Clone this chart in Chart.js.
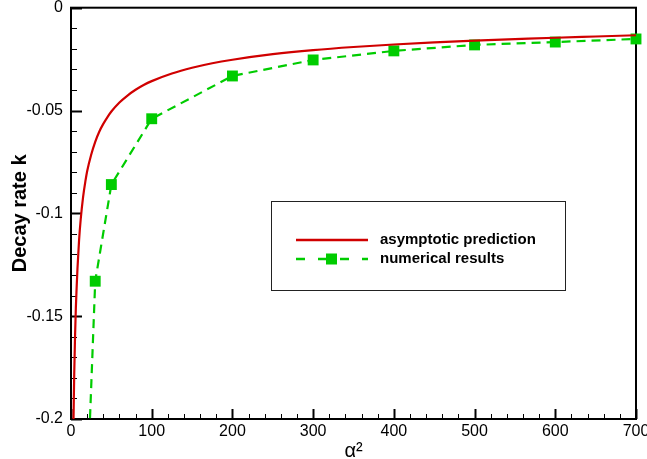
<!DOCTYPE html>
<html><head><meta charset="utf-8">
<script src="https://cdn.jsdelivr.net/npm/chart.js@4/dist/chart.umd.min.js"></script>
<style>html,body{margin:0;padding:0;background:#fff;}#wrap{width:647px;height:459px;}</style>
</head><body><div id="wrap"><canvas id="c" width="647" height="459"></canvas></div>
<script>
// ---- data ----
const asymX = [2.5, 3, 3.5, 4, 5, 6, 7, 8, 10, 12, 15, 18, 20, 25, 30, 35, 40, 45, 50, 60, 70, 80, 90, 100, 125, 150, 175, 200, 250, 300, 350, 400, 450, 500, 550, 600, 650, 700];
const asymK = [-0.222, -0.204, -0.190, -0.178, -0.160, -0.146, -0.136, -0.127, -0.113, -0.103, -0.092, -0.084, -0.0795, -0.0715, -0.0652, -0.0603, -0.0565, -0.0533, -0.0505, -0.0461, -0.0427, -0.0399, -0.0376, -0.0357, -0.0320, -0.0292, -0.0270, -0.0253, -0.0226, -0.0206, -0.0191, -0.0179, -0.0169, -0.0160, -0.0153, -0.0146, -0.0140, -0.0134];
const numX = [20, 30, 50, 100, 200, 300, 400, 500, 600, 700];
const numK = [-0.236, -0.133, -0.086, -0.054, -0.0332, -0.0254, -0.0210, -0.0181, -0.0167, -0.0152];
const xTickValues = [0, 100, 200, 300, 400, 500, 600, 700];
const xTickLabels = ['0', '100', '200', '300', '400', '500', '600', '700'];
const yTickValues = [-0.2, -0.15, -0.1, -0.05, 0];
const yTickLabels = ['-0.2', '-0.15', '-0.1', '-0.05', '0'];
const seriesLabels = ['asymptotic prediction', 'numerical results'];
const xTitle = 'α²';
const yTitle = 'Decay rate k';

const RED = '#d00000', GREEN = '#00cc00';
const FONT = '"Liberation Sans", Arial, sans-serif';

const frameTicks = {
  id: 'frameTicks',
  beforeDatasetsDraw(chart) {
    const ctx = chart.ctx, a = chart.chartArea;
    const xs = chart.scales.x, ys = chart.scales.y;
    ctx.save();
    ctx.strokeStyle = '#000';
    for (let v = 0; v <= 700 + 1e-9; v += 20) {
      const px = Math.round(xs.getPixelForValue(v)) + 0.5;
      const major = Math.abs(v % 100) < 1e-6;
      ctx.lineWidth = major ? 2 : 1;
      ctx.beginPath(); ctx.moveTo(px, a.bottom); ctx.lineTo(px, a.bottom - (major ? 10 : 5)); ctx.stroke();
    }
    for (let i = 0; i <= 20; i++) {
      const v = -0.2 + i * 0.01;
      const py = Math.round(ys.getPixelForValue(v)) + 0.5;
      const major = i % 5 === 0;
      ctx.lineWidth = major ? 2 : 1;
      ctx.beginPath(); ctx.moveTo(a.left, py); ctx.lineTo(a.left + (major ? 11 : 6), py); ctx.stroke();
    }
    ctx.lineWidth = 2;
    ctx.strokeRect(a.left, a.top, a.right - a.left, a.bottom - a.top);
    ctx.restore();
  },
  afterDraw(chart) {
    const ctx = chart.ctx;
    ctx.save();
    const lx = 271, ly = 201, lw = 294, lh = 89;
    ctx.fillStyle = '#fff';
    ctx.fillRect(lx, ly, lw, lh);
    ctx.lineWidth = 1;
    ctx.strokeStyle = '#222';
    ctx.strokeRect(lx + 0.5, ly + 0.5, lw, lh);
    const ds = chart.data.datasets;
    ctx.font = 'bold 15px ' + FONT;
    ctx.fillStyle = '#000';
    ctx.textBaseline = 'middle';
    ctx.textAlign = 'left';
    ctx.strokeStyle = RED; ctx.lineWidth = 2.5; ctx.setLineDash([]);
    ctx.beginPath(); ctx.moveTo(296, 240); ctx.lineTo(368, 240); ctx.stroke();
    ctx.fillText(ds[0].label, 380, 240);
    ctx.strokeStyle = GREEN; ctx.lineWidth = 2.5; ctx.setLineDash([9, 13]);
    ctx.beginPath(); ctx.moveTo(296, 259); ctx.lineTo(368, 259); ctx.stroke();
    ctx.setLineDash([]);
    ctx.fillStyle = GREEN; ctx.fillRect(326, 253.5, 11, 11);
    ctx.fillStyle = '#000';
    ctx.fillText(ds[1].label, 380, 259);
    ctx.restore();
  }
};

new Chart(document.getElementById('c'), {
  type: 'scatter',
  data: {
    datasets: [
      {
        label: seriesLabels[0],
        data: asymX.map((x, i) => ({x, y: asymK[i]})),
        showLine: true, borderColor: RED, borderWidth: 2.2, pointRadius: 0,
        cubicInterpolationMode: 'monotone'
      },
      {
        label: seriesLabels[1],
        data: numX.map((x, i) => ({x, y: numK[i]})),
        showLine: true, borderColor: GREEN, borderWidth: 2.2, borderDash: [9, 6],
        pointStyle: 'rect', pointRadius: 7.7, pointBackgroundColor: GREEN, pointBorderWidth: 0,
        pointHoverRadius: 7.7,
        clip: {left: 8, right: 8, top: 8, bottom: 0}
      }
    ]
  },
  options: {
    responsive: false, animation: false, devicePixelRatio: 1,
    layout: {padding: {top: 7, right: 11, bottom: 0, left: 0}},
    plugins: {legend: {display: false}, tooltip: {enabled: false}},
    scales: {
      x: {
        type: 'linear', position: 'bottom', min: 0, max: 700,
        grid: {display: false, drawTicks: false}, border: {display: false},
        afterBuildTicks: s => { s.ticks = xTickValues.map(v => ({value: v})); },
        ticks: {
          autoSkip: false, maxRotation: 0, padding: 3, color: '#000',
          font: {family: FONT, size: 16},
          callback: v => xTickLabels[xTickValues.indexOf(v)]
        },
        title: {display: true, text: xTitle, color: '#000', padding: {top: 0, bottom: -4},
          font: {family: FONT, size: 20}},
        afterFit: s => { s.height = 40; s.paddingLeft = 0; s.paddingRight = 0; }
      },
      y: {
        type: 'linear', position: 'left', min: -0.2, max: 0,
        grid: {display: false, drawTicks: false}, border: {display: false},
        afterBuildTicks: s => { s.ticks = yTickValues.map(v => ({value: v})); },
        ticks: {
          autoSkip: false, padding: 8, color: '#000',
          font: {family: FONT, size: 16},
          callback: v => yTickLabels[yTickValues.findIndex(t => Math.abs(t - v) < 1e-9)]
        },
        title: {display: true, text: yTitle, color: '#000', padding: {top: 8, bottom: 0},
          font: {family: FONT, size: 20, weight: 'bold'}},
        afterFit: s => { s.width = 71; s.paddingTop = 0; s.paddingBottom = 0; }
      }
    }
  },
  plugins: [frameTicks]
});
</script></body></html>
